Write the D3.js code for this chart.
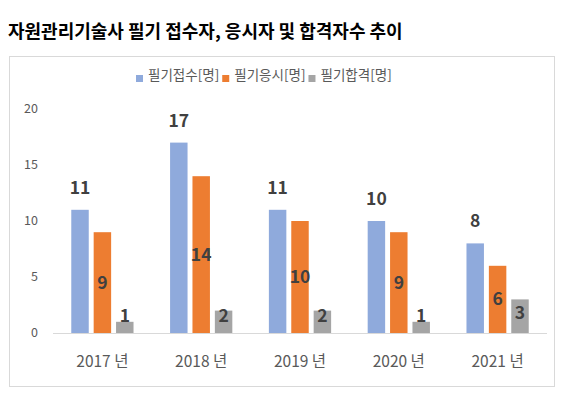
<!DOCTYPE html>
<html>
<head>
<meta charset="utf-8">
<script src="https://cdn.jsdelivr.net/npm/d3@7"></script>
<style>
  body { margin: 0; background: #fff; }
  text { font-family: "Noto Sans CJK KR", "Noto Sans", sans-serif; }
</style>
</head>
<body>
<div id="chart"></div>
<script>
  // chart data
  var years = ['2017 년', '2018 년', '2019 년', '2020 년', '2021 년'];
  var seriesNames = ['필기접수[명]', '필기응시[명]', '필기합격[명]'];
  var applied = [11, 17, 11, 10, 8];
  var tested = [9, 14, 10, 9, 6];
  var passed = [1, 2, 2, 1, 3];
  var yTicks = [0, 5, 10, 15, 20];

  var colors = ['#8faadc', '#ed7d31', '#a5a5a5'];
  var series = [applied, tested, passed];

  var svg = d3.select('#chart')
    .append('svg')
    .attr('width', 566)
    .attr('height', 395);

  // title
  svg.append('text')
    .attr('x', 8)
    .attr('y', 38)
    .attr('font-size', 18)
    .attr('font-weight', 'bold')
    .attr('fill', '#000')
    .text('자원관리기술사 필기 접수자, 응시자 및 합격자수 추이');

  // chart frame
  svg.append('rect')
    .attr('x', 9.5)
    .attr('y', 56.5)
    .attr('width', 545)
    .attr('height', 330)
    .attr('fill', 'none')
    .attr('stroke', '#d9d9d9');

  var x0 = d3.scaleBand()
    .domain(years)
    .range([53, 547])
    .paddingInner(0.37)
    .paddingOuter(0.185);

  var x1 = d3.scaleBand()
    .domain([0, 1, 2])
    .range([0, x0.bandwidth()])
    .paddingInner(0.22);

  var y = d3.scaleLinear()
    .domain([0, 20])
    .range([333, 109]);

  // y tick labels
  svg.append('g')
    .selectAll('text')
    .data(yTicks)
    .enter()
    .append('text')
    .attr('x', 38)
    .attr('y', function(d) { return y(d); })
    .attr('dy', '0.35em')
    .attr('text-anchor', 'end')
    .attr('font-size', 12.5)
    .attr('fill', '#595959')
    .text(function(d) { return d; });

  // bars
  series.forEach(function(vals, s) {
    svg.append('g')
      .selectAll('rect')
      .data(vals)
      .enter()
      .append('rect')
      .attr('x', function(d, i) { return x0(years[i]) + x1(s); })
      .attr('y', function(d) { return y(d); })
      .attr('width', x1.bandwidth())
      .attr('height', function(d) { return y(0) - y(d); })
      .attr('fill', colors[s]);
  });

  // baseline
  svg.append('line')
    .attr('x1', 53)
    .attr('x2', 547)
    .attr('y1', y(0) + 0.5)
    .attr('y2', y(0) + 0.5)
    .attr('stroke', '#d9d9d9');

  // data labels - outside end, center, inside end
  function labelY(d, s) {
    if (s === 0) return y(d) - 16;
    if (s === 1) return (y(d) + y(0)) / 2 + 6;
    return Math.min(y(d) + 14, y(0) - 17) + 6;
  }

  series.forEach(function(vals, s) {
    svg.append('g')
      .selectAll('text')
      .data(vals)
      .enter()
      .append('text')
      .attr('x', function(d, i) { return x0(years[i]) + x1(s) + x1.bandwidth() / 2; })
      .attr('y', function(d) { return labelY(d, s); })
      .attr('text-anchor', 'middle')
      .attr('font-size', 17.5)
      .attr('font-weight', 'bold')
      .attr('fill', '#404040')
      .text(function(d) { return d; });
  });

  // x labels
  svg.append('g')
    .selectAll('text')
    .data(years)
    .enter()
    .append('text')
    .attr('x', function(d) { return x0(d) + x0.bandwidth() / 2; })
    .attr('y', 367)
    .attr('text-anchor', 'middle')
    .attr('font-size', 15.5)
    .attr('fill', '#595959')
    .text(function(d) { return d; });

  // legend
  var legend = svg.append('g');
  var lx = 136;
  seriesNames.forEach(function(name, i) {
    legend.append('rect')
      .attr('x', lx)
      .attr('y', 75)
      .attr('width', 7)
      .attr('height', 7)
      .attr('fill', colors[i]);
    var t = legend.append('text')
      .attr('x', lx + 12)
      .attr('y', 80)
      .attr('font-size', 13.5)
      .attr('fill', '#595959')
      .text(name);
    lx += 12 + t.node().getComputedTextLength() + 3;
  });
</script>
</body>
</html>
